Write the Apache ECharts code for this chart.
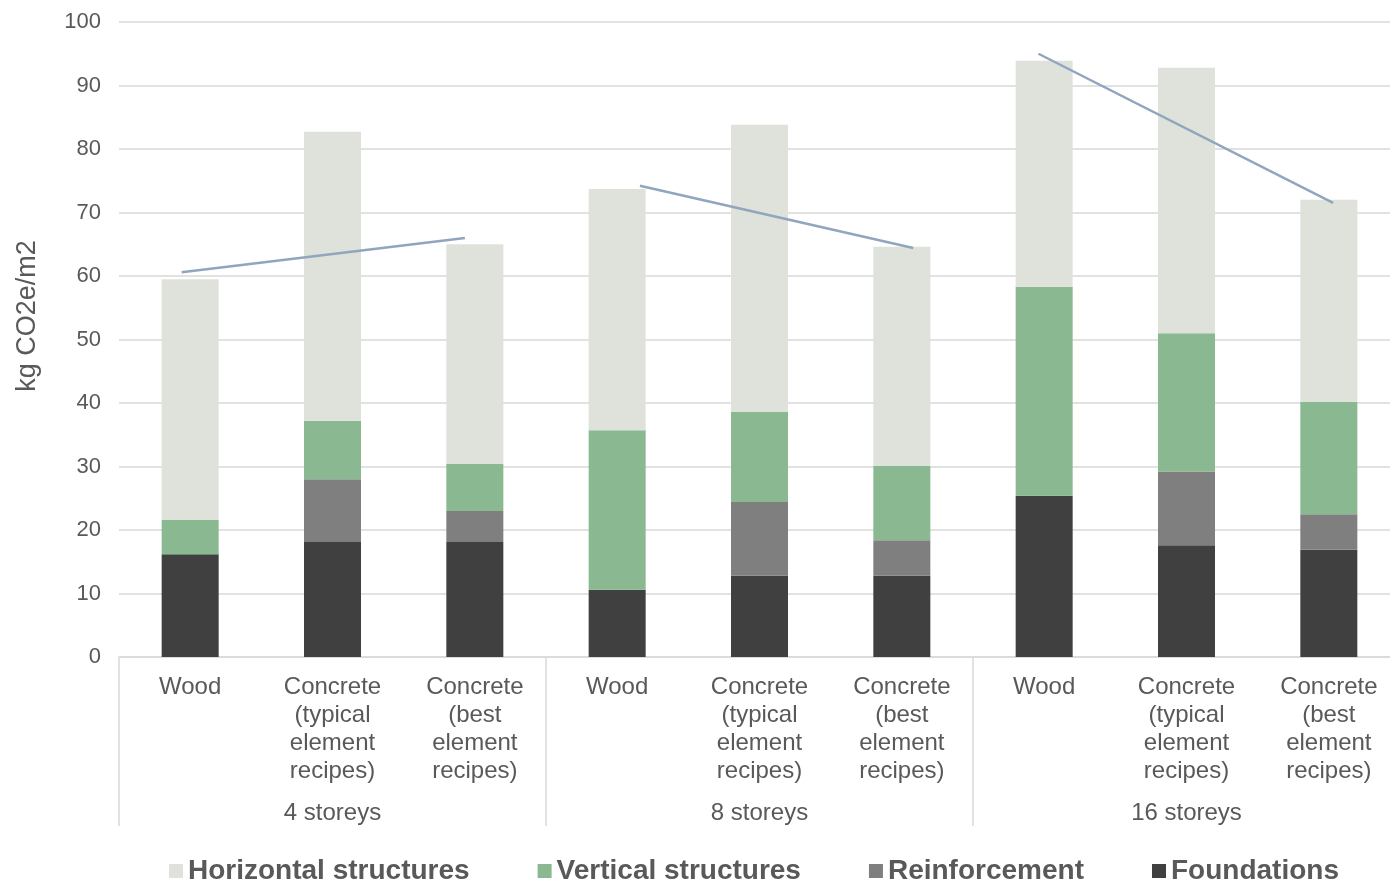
<!DOCTYPE html>
<html>
<head>
<meta charset="utf-8">
<script src="https://cdn.jsdelivr.net/npm/echarts@6/dist/echarts.min.js"></script>
<style>
  html, body { margin: 0; padding: 0; background: #fff; overflow: hidden; }
  #chart { width: 1402px; height: 882px; }
</style>
</head>
<body>
<div id="chart"></div>
<script>
const categories = [
  'Wood', 'Concrete\n(typical\nelement\nrecipes)', 'Concrete\n(best\nelement\nrecipes)',
  'Wood', 'Concrete\n(typical\nelement\nrecipes)', 'Concrete\n(best\nelement\nrecipes)',
  'Wood', 'Concrete\n(typical\nelement\nrecipes)', 'Concrete\n(best\nelement\nrecipes)'
]
const groups = ['4 storeys', '8 storeys', '16 storeys']

const foundations   = [16.2, 18.1, 18.1, 10.6, 12.8, 12.8, 25.4, 17.6, 16.9]
const reinforcement = [0,    9.9,  4.9,  0,    11.6, 5.6,  0,    11.6, 5.6]
const vertical      = [5.4,  9.2,  7.4,  25.1, 14.2, 11.7, 32.9, 21.8, 17.7]
const horizontal    = [37.9, 45.5, 34.6, 38.0, 45.2, 34.5, 35.6, 41.8, 31.8]

// trend segments drawn over each group: [category position, value], null breaks
const trendLines = [
  [-0.06, 60.6], [1.93, 66.0], null,
  [3.16, 74.2], [5.08, 64.4], null,
  [5.96, 95.0], [8.03, 71.5]
]

const colors = {
  horizontal: '#dfe2da',
  vertical: '#89b891',
  reinforcement: '#7f7f7f',
  foundations: '#404040',
}

const textColor = '#595959'
const font = 'Liberation Sans, Arial, sans-serif'

const chart = echarts.init(document.getElementById('chart'))

const bar = (name, data, color) => ({
  name,
  type: 'bar',
  stack: 'total',
  barWidth: 57,
  xAxisIndex: 0,
  yAxisIndex: 0,
  itemStyle: { color },
  emphasis: { disabled: true },
  data
})

chart.setOption({
  animation: false,
  textStyle: { fontFamily: font },
  title: {
    text: 'fossil.',
    left: 655,
    top: -14,
    padding: 0,
    textStyle: { color: '#8a8a8a', fontSize: 18, fontWeight: 'normal', fontFamily: font }
  },
  graphic: [{
    type: 'text',
    x: 28,
    y: 316,
    rotation: Math.PI / 2,
    style: {
      text: 'kg CO2e/m2',
      fill: textColor,
      font: '27px ' + font,
      align: 'center',
      verticalAlign: 'middle'
    }
  }],
  grid: { left: 119, top: 22, width: 1281, height: 635, containLabel: false },
  legend: {
    left: 164,
    top: 852,
    itemWidth: 14,
    itemHeight: 14,
    itemGap: 68,
    icon: 'rect',
    data: ['Horizontal structures', 'Vertical structures', 'Reinforcement', 'Foundations'],
    textStyle: { color: textColor, fontSize: 28, fontWeight: 'bold', fontFamily: font }
  },
  xAxis: [{
    type: 'category',
    data: categories,
    axisLine: { show: true, lineStyle: { color: '#d9d9d9', width: 1.5 } },
    axisTick: { show: false },
    axisLabel: { interval: 0, color: textColor, fontSize: 24, lineHeight: 28, margin: 16 }
  }, {
    type: 'category',
    data: groups,
    position: 'bottom',
    axisLine: { show: false },
    axisTick: { show: true, length: 169, interval: 0, lineStyle: { color: '#d9d9d9', width: 1.5 } },
    axisLabel: { interval: 0, color: textColor, fontSize: 24, margin: 144 }
  }, {
    type: 'value',
    min: -0.5,
    max: 8.5,
    show: false
  }],
  yAxis: {
    type: 'value',
    min: 0,
    max: 100,
    interval: 10,
    axisLine: { show: false },
    axisTick: { show: false },
    axisLabel: { color: textColor, fontSize: 22, margin: 18 },
    splitLine: { lineStyle: { color: '#d9d9d9', width: 1.5 } }
  },
  series: [
    bar('Foundations', foundations, colors.foundations),
    bar('Reinforcement', reinforcement, colors.reinforcement),
    bar('Vertical structures', vertical, colors.vertical),
    bar('Horizontal structures', horizontal, colors.horizontal),
    {
      type: 'line',
      xAxisIndex: 2,
      yAxisIndex: 0,
      symbol: 'none',
      connectNulls: false,
      lineStyle: { color: '#8fa6be', width: 2.5 },
      data: trendLines.map(p => p || [null, null]),
      z: 5
    }
  ]
})
</script>
</body>
</html>
